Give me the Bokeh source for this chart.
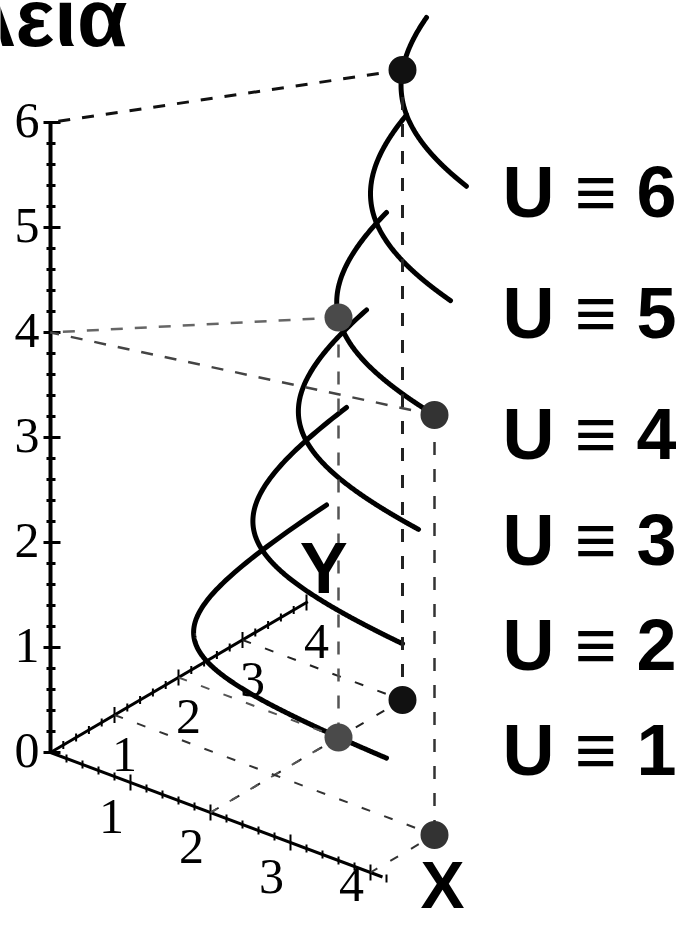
import numpy as np
from bokeh.plotting import figure
from bokeh.models import Range1d
from bokeh.core.properties import value
from bokeh.embed import file_html
from bokeh.resources import INLINE

# ---------------- data ----------------
title_text = "Ωφέλεια"
levels = [1, 2, 3, 4, 5, 6]                       # U = x*y, each curve drawn at height U
level_labels = ["U ≡ 1", "U ≡ 2", "U ≡ 3", "U ≡ 4", "U ≡ 5", "U ≡ 6"]
curve_x_max = 4.0
curve_y_max = 4.0
pt_x = [2, 2, 4]
pt_y = [3, 2, 1]
pt_u = [6, 4, 4]
x_ticks = [1, 2, 3, 4]
y_ticks = [1, 2, 3, 4]
z_ticks = [0, 1, 2, 3, 4, 5, 6]
x_axis_end = 4.15
y_axis_end = 4.02
z_axis_end = 6.0

# ---------------- styling / layout ----------------
pt_colors = ["#111111", "#4a4a4a", "#333333"]
pt_line_colors = ["#111111", "#666666", "#444444"]
pt_vert_colors = ["#222222", "#555555", "#333333"]
u_label_center = [749, 644, 539, 433.5, 312.5, 191.5]
x_label_dy = [34, 34, 34, 12]
FONT_SANS = "Liberation Sans"
FONT_SERIF = "Liberation Serif"

O = (50.0, 752.0)
XU = (80.0, 30.0)
YU = (64.0, -37.5)
ZU = (0.0, -105.0)


def proj(x, y, z):
    x, y, z = np.broadcast_arrays(np.asarray(x, dtype=float), np.asarray(y, dtype=float),
                                  np.asarray(z, dtype=float))
    sx = O[0] + x * XU[0] + y * YU[0] + z * ZU[0]
    sy = O[1] + x * XU[1] + y * YU[1] + z * ZU[1]
    return np.atleast_1d(sx).astype(float), np.atleast_1d(sy).astype(float)


p = figure(width=676, height=912, x_range=Range1d(0, 676), y_range=Range1d(912, 0),
           output_backend="svg", toolbar_location=None, min_border=0,
           x_axis_location=None, y_axis_location=None)
p.grid.visible = False
p.outline_line_color = None
p.background_fill_color = "white"
p.border_fill_color = "white"

# ---------------- axes ----------------
ax_x0, ax_y0 = proj(0, 0, 0)
for end in [(x_axis_end, 0, 0), (0, y_axis_end, 0)]:
    ex, ey = proj(*end)
    p.line([ax_x0[0], ex[0]], [ax_y0[0], ey[0]], line_color="black", line_width=3)
ex, ey = proj(0, 0, z_axis_end)
p.line([ax_x0[0], ex[0]], [ax_y0[0], ey[0]], line_color="black", line_width=4)

# ticks (every 0.2, major at integers)
minor_x = [i / 5 for i in range(1, int(round(x_axis_end * 5)) + 1)]
minor_y = [i / 5 for i in range(1, int(round(y_axis_end * 5)) + 1)]
minor_z = [i / 5 for i in range(0, int(round(z_axis_end * 5)) + 1)]


def tick_len(v, major, minor):
    return major if abs(v - round(v)) < 1e-9 else minor


tx, ty = proj(minor_x, 0, 0)
lens = np.array([tick_len(v, 8, 4) for v in minor_x])
p.segment(tx, ty - lens, tx, ty + lens, line_color="black", line_width=2)
tx, ty = proj(0, minor_y, 0)
lens = np.array([tick_len(v, 8, 4) for v in minor_y])
p.segment(tx, ty - lens, tx, ty + lens, line_color="black", line_width=2)
tx, ty = proj(0, 0, minor_z)
lens_l = np.array([tick_len(v, 7, 4) for v in minor_z])
lens_r = np.array([tick_len(v, 10, 5) for v in minor_z])
p.segment(tx - lens_l, ty, tx + lens_r, ty, line_color="black", line_width=3)

# tick labels
lx, ly = proj(x_ticks, 0, 0)
p.text(lx - 19, ly + np.array(x_label_dy), text=[str(t) for t in x_ticks],
       text_font=value(FONT_SERIF), text_font_size="50px", text_align="center",
       text_baseline="middle", text_color="black")
lx, ly = proj(0, y_ticks, 0)
p.text(lx + 10, ly + 39, text=[str(t) for t in y_ticks], text_font=value(FONT_SERIF),
       text_font_size="50px", text_align="center", text_baseline="middle", text_color="black")
lx, ly = proj(0, 0, z_ticks)
p.text(lx - 23.5, ly - 2, text=[str(t) for t in z_ticks], text_font=value(FONT_SERIF),
       text_font_size="50px", text_align="center", text_baseline="middle", text_color="black")

# ---------------- indifference curves ----------------
for c in levels:
    xs = np.linspace(c / curve_y_max, curve_x_max, 300)
    ys = c / xs
    sx, sy = proj(xs, ys, c)
    p.line(sx, sy, line_color="black", line_width=5, line_join="round", line_cap="round")

# ---------------- dashed guide lines ----------------
for i in range(len(pt_x)):
    x, y, u = pt_x[i], pt_y[i], pt_u[i]
    ax_, ay_ = proj([x, 0], [y, 0], [u, u])
    p.line(ax_, ay_, line_color=pt_line_colors[i], line_width=3 if i == 0 else 2.5,
           line_dash="12 12")
    vx, vy = proj([x, x], [y, y], [u, 0])
    p.line(vx, vy, line_color=pt_vert_colors[i], line_width=3 if i == 0 else 2.5,
           line_dash="13 14")
    gx, gy = proj([0, x, x], [y, y, 0], [0, 0, 0])
    p.line(gx, gy, line_color=pt_vert_colors[i], line_width=2, line_dash="9 15")

# ---------------- points ----------------
for i in range(len(pt_x)):
    sx, sy = proj([pt_x[i], pt_x[i]], [pt_y[i], pt_y[i]], [pt_u[i], 0])
    p.scatter(sx, sy, size=28, fill_color=pt_colors[i], line_color=None)

# ---------------- texts ----------------
p.text([127], [17], text=[title_text], text_font=value(FONT_SANS), text_font_style="bold",
       text_font_size="82px", text_align="right", text_baseline="middle", text_color="black")

p.text([502] * len(levels), u_label_center, text=level_labels, text_font=value(FONT_SANS),
       text_font_style="bold", text_font_size="72px", text_align="left",
       text_baseline="middle", text_color="black")

yx, yy = proj(0, y_axis_end, 0)
p.text([yx[0] + 16], [yy[0] - 34], text=["Y"], text_font=value(FONT_SANS),
       text_font_style="bold", text_font_size="72px", text_align="center",
       text_baseline="middle", text_color="black")
xx, xy = proj(x_axis_end, 0, 0)
p.text([xx[0] + 60], [xy[0] + 8], text=["X"], text_font=value(FONT_SANS),
       text_font_style="bold", text_font_size="66px", text_align="center",
       text_baseline="middle", text_color="black")

open("out.html", "w").write(file_html(p, INLINE))
